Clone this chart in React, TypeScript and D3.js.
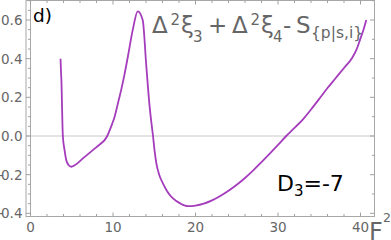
import React from "react";
import * as d3 from "d3";

const curveX = [3.64, 3.70, 3.76, 3.85, 3.92, 4.13, 4.33, 4.6, 4.94, 5.4, 6.35, 7.56, 8.5, 9.0, 9.3, 9.6, 9.9, 10.2, 10.6, 11.0, 11.4, 11.8, 12.4, 13.0, 13.6, 14.04, 14.44, 14.65, 14.85, 15.05, 15.25, 15.6, 16.05, 16.6, 17.27, 18.2, 19.1, 20, 21, 22, 23, 24, 25, 26, 27, 28, 29, 30, 31, 32, 33, 34, 35, 36, 37, 38, 39, 39.5, 40, 40.4, 40.7];
const curveY = [0.40, 0.33, 0.27, 0.10, 0.0, -0.073, -0.124, -0.15, -0.159, -0.15, -0.116, -0.073, -0.04, -0.02, 0.0, 0.03, 0.063, 0.1, 0.17, 0.24, 0.32, 0.41, 0.55, 0.645, 0.60, 0.36, 0.152, 0.07, 0.0, -0.08, -0.14, -0.2, -0.245, -0.288, -0.323, -0.35, -0.363, -0.36, -0.35, -0.333, -0.31, -0.283, -0.252, -0.217, -0.178, -0.135, -0.091, -0.046, 0.0, 0.042, 0.085, 0.137, 0.192, 0.248, 0.3, 0.352, 0.405, 0.445, 0.505, 0.555, 0.6];

const xTickLabels = [0, 10, 20, 30, 40];
const yTickLabels = [-0.4, -0.2, 0.0, 0.2, 0.4, 0.6];

export default function App() {
  const W = 391, H = 240;
  const left = 26, right = 374.5, top = 0.5, bottom = 216.5;
  const x = d3.scaleLinear().domain([0, 40]).range([30.5, 360.5]);
  const y = d3.scaleLinear().domain([0, 0.6]).range([136, 20]);
  const pts = curveX.map((v, i) => [v, curveY[i]] as [number, number]);
  const line = d3.line<[number, number]>().x(d => x(d[0])).y(d => y(d[1])).curve(d3.curveMonotoneX);

  const frameColor = "#a8a8a8";
  const tickColor = "#a0a0a0";
  const labelColor = "#666666";
  const font = "'DejaVu Sans', sans-serif";

  const xMinor = d3.range(0, 42, 2);
  const yMinorLeft = d3.range(-0.4, 0.701, 0.05).map(v => Math.round(v * 100) / 100);
  const yMinorRight = d3.range(-0.4, 0.701, 0.1).map(v => Math.round(v * 100) / 100);
  const isMajX = (v: number) => Math.abs(v % 10) < 1e-6;
  const isMajY = (v: number) => Math.abs(Math.round(v * 10) % 2) === 0 && Math.abs(v * 10 - Math.round(v * 10)) < 1e-6;

  const T = (px: number, py: number, s: number, t: string, extra: any = {}) => (
    <text x={px} y={py} fontFamily={font} fontSize={s} fill={labelColor} {...extra}>{t}</text>
  );

  return (
    <svg width={W} height={H} style={{ position: "absolute", left: 0, top: 0, background: "#fff" }}>
      <line x1={left} x2={right} y1={y(0)} y2={y(0)} stroke="#c8c8c8" strokeWidth={1} />
      <rect x={left} y={top} width={right - left} height={bottom - top} fill="none" stroke={frameColor} strokeWidth={1} />
      <line x1={x(0)} x2={x(0)} y1={top} y2={bottom} stroke={frameColor} strokeWidth={1} />
      {xMinor.map(v => (
        <g key={"xt" + v}>
          <line x1={x(v)} x2={x(v)} y1={bottom} y2={bottom - (isMajX(v) ? 4 : 2.5)} stroke={tickColor} />
          <line x1={x(v)} x2={x(v)} y1={top} y2={top + (isMajX(v) ? 4 : 2.5)} stroke={tickColor} />
        </g>
      ))}
      {yMinorLeft.map(v => (
        <line key={"yl" + v} x1={x(0)} x2={x(0) - (isMajY(v) ? 4.5 : 2.5)} y1={y(v)} y2={y(v)} stroke={tickColor} />
      ))}
      {yMinorRight.map(v => (
        <line key={"yr" + v} x1={right} x2={right - (isMajY(v) ? 4.5 : 2.5)} y1={y(v)} y2={y(v)} stroke={tickColor} />
      ))}
      {xTickLabels.map(v => (
        <text key={"xl" + v} x={x(v)} y={231.5} textAnchor="middle" fontFamily={font} fontSize={13.5} fill={labelColor}>{v}</text>
      ))}
      {yTickLabels.map(v => (
        <text key={"ylab" + v} x={22.5} y={y(v) + 5} textAnchor="end" fontFamily={font} fontSize={13.5} fill={labelColor}>
          {v < 0 ? (
            <>
              <tspan>-</tspan>
              <tspan dx={-2.5}>{Math.abs(v).toFixed(1)}</tspan>
            </>
          ) : v.toFixed(1)}
        </text>
      ))}
      <path d={line(pts) || ""} fill="none" stroke="#a43cbc" strokeWidth={1.8} strokeLinejoin="round" />
      <text x={33} y={22} fontFamily={font} fontSize={18.5} fill="#000">d)</text>
      {T(152, 33, 23, "Δ")}
      {T(170.5, 25, 15, "2")}
      {T(181, 33, 23, "ξ")}
      {T(193, 42, 15, "3")}
      {T(208, 33, 23, "+")}
      {T(232, 33, 23, "Δ")}
      {T(250.5, 25, 15, "2")}
      {T(261, 33, 23, "ξ")}
      {T(273, 42, 15, "4")}
      {T(283, 33, 23, "-")}
      {T(296, 33, 23, "S")}
      {T(311, 38, 15.5, "{p|s,i}")}
      <text x={277} y={191} fontFamily={font} fontSize={22} fill="#000">
        <tspan>D</tspan>
        <tspan fontSize={15} dy={5}>3</tspan>
        <tspan dy={-5}>=-7</tspan>
      </text>
      {T(369, 239.5, 24, "F")}
      {T(383, 222, 12.5, "2")}
    </svg>
  );
}
